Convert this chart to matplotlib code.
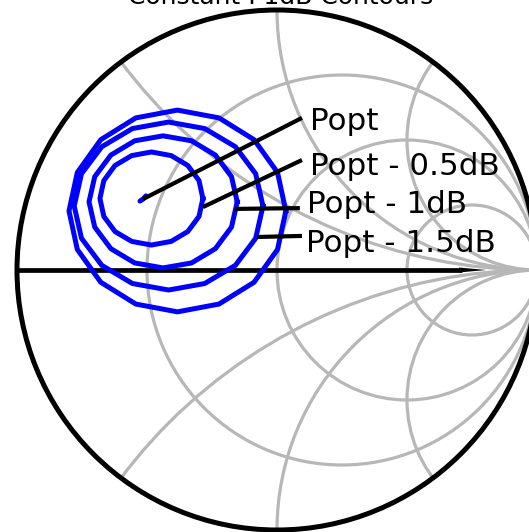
import matplotlib
matplotlib.use("Agg")
import matplotlib.pyplot as plt
from matplotlib.patches import Circle, Polygon

plt.rcParams['font.family'] = ['DejaVu Sans']

title = "Constant P1dB Contours"

# Smith chart grid values
r_values = [1/3, 1, 3]
x_values = [0.5, 1, 2, -0.5, -1, -2]

# Load-pull contours, reflection coefficient (real, imag)
popt_re = [-0.527, -0.515, -0.504]
popt_im = [0.265, 0.273, 0.285]

c05_re = [-0.285, -0.300, -0.343, -0.407, -0.483, -0.559, -0.623, -0.666, -0.681,
          -0.666, -0.623, -0.559, -0.483, -0.407, -0.343, -0.300, -0.285]
c05_im = [0.275, 0.344, 0.402, 0.440, 0.454, 0.440, 0.402, 0.344, 0.275,
          0.206, 0.148, 0.110, 0.096, 0.110, 0.148, 0.206, 0.275]

c10_re = [-0.153, -0.175, -0.237, -0.329, -0.438, -0.547, -0.639, -0.701, -0.723,
          -0.701, -0.639, -0.547, -0.438, -0.329, -0.237, -0.175, -0.153]
c10_im = [0.262, 0.359, 0.442, 0.497, 0.516, 0.497, 0.442, 0.359, 0.262,
          0.165, 0.082, 0.027, 0.008, 0.027, 0.082, 0.165, 0.262]

c15_re = [-0.054, -0.082, -0.160, -0.278, -0.417, -0.556, -0.674, -0.752, -0.780,
          -0.752, -0.674, -0.556, -0.417, -0.278, -0.160, -0.082, -0.054]
c15_im = [0.246, 0.370, 0.474, 0.544, 0.569, 0.544, 0.474, 0.370, 0.246,
          0.122, 0.018, -0.052, -0.077, -0.052, 0.018, 0.122, 0.246]

c20_re = [0.034, 0.002, -0.088, -0.223, -0.383, -0.543, -0.678, -0.768, -0.800,
          -0.768, -0.678, -0.543, -0.383, -0.223, -0.088, 0.002, 0.034]
c20_im = [0.227, 0.375, 0.501, 0.585, 0.615, 0.585, 0.501, 0.375, 0.227,
          0.079, -0.047, -0.131, -0.161, -0.131, -0.047, 0.079, 0.227]

labels = ["Popt", "Popt - 0.5dB", "Popt - 1dB", "Popt - 1.5dB"]
leader_start = [(-0.515, 0.273), (-0.285, 0.242), (-0.162, 0.235), (-0.077, 0.127)]
leader_end = [(0.096, 0.585), (0.096, 0.423), (0.088, 0.238), (0.096, 0.131)]
label_pos = [(0.127, 0.538), (0.127, 0.365), (0.115, 0.219), (0.111, 0.069)]

W, H = 529, 532
fig = plt.figure(figsize=(W / 100, H / 100), dpi=100)
scale = 260.0          # pixels per unit reflection coefficient
cx, cy = 277.0, 532 - 270.0
L = 1.05
ax = fig.add_axes([(cx - L * scale) / W, (cy - L * scale) / H,
                   2 * L * scale / W, 2 * L * scale / H])
ax.set_xlim(-L, L)
ax.set_ylim(-L, L)
ax.set_aspect('equal')
ax.axis('off')

grid_color = '#b7b7b7'
unit = Circle((0, 0), 1, transform=ax.transData, facecolor='none', edgecolor='none')
ax.add_patch(unit)

for r in r_values:
    c = Circle((r / (1 + r), 0), 1 / (1 + r), facecolor='none',
               edgecolor=grid_color, lw=2.3, zorder=1)
    ax.add_patch(c)
    c.set_clip_path(unit)

for x in x_values:
    c = Circle((1, 1 / x), abs(1 / x), facecolor='none',
               edgecolor=grid_color, lw=2.3, zorder=1)
    ax.add_patch(c)
    c.set_clip_path(unit)

# real axis with tapered end
ax.plot([-1, 0.71], [0, 0], color='black', lw=3.4, solid_capstyle='butt', zorder=2)
ax.add_patch(Polygon([(0.70, 0.0095), (0.805, 0), (0.70, -0.0095)],
                     closed=True, facecolor='black', edgecolor='none', zorder=2))

# outer boundary
ax.add_patch(Circle((0, 0), 1, facecolor='none', edgecolor='black', lw=3.6, zorder=3))

blue = '#0000ff'
for re, im in [(c05_re, c05_im), (c10_re, c10_im), (c15_re, c15_im), (c20_re, c20_im)]:
    ax.plot(re, im, color=blue, lw=3.6, solid_joinstyle='round', zorder=4)
ax.plot(popt_re, popt_im, color=blue, lw=3.6, solid_capstyle='round', zorder=4)

for lab, s, e, p in zip(labels, leader_start, leader_end, label_pos):
    ax.plot([s[0], e[0]], [s[1], e[1]], color='black', lw=3.0,
            solid_capstyle='butt', zorder=5)
    ax.text(p[0], p[1], lab, fontsize=22.3, color='black', ha='left',
            va='baseline', zorder=6)

fig.text(280.5 / W, 1 - 3.5 / H, title, fontsize=18, ha='center', va='baseline')

fig.savefig('out.png', dpi=100)
